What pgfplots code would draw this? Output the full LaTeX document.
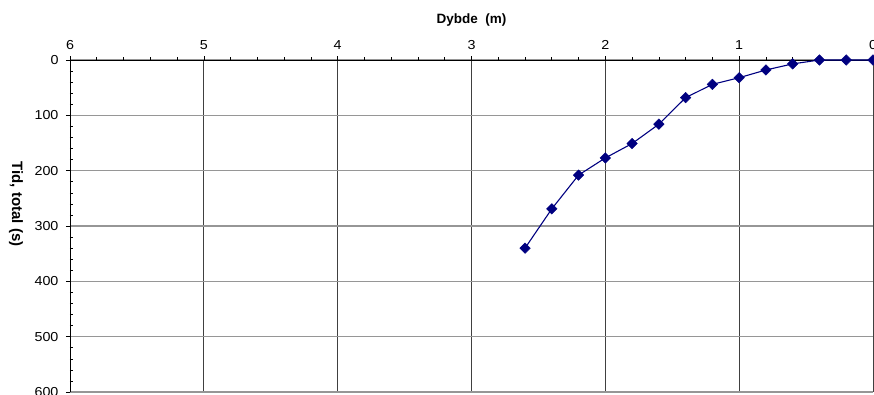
\documentclass[border=0pt]{standalone}
\usepackage{fontspec}
\setmainfont{Liberation Sans}
\newfontfamily\tickfont[FakeStretch=1.1]{Liberation Sans}
\usepackage{pgfplots}
\pgfplotsset{compat=1.18}
\definecolor{navy}{RGB}{0,0,128}
\definecolor{vgrid}{RGB}{64,64,64}
\definecolor{hgrid}{RGB}{150,150,150}
\newcommand{\tl}[1]{\tickfont\fontsize{13}{15}\selectfont\pgfmathprintnumber[assume math mode=true]{#1}}
\begin{document}
\begin{tikzpicture}
\begin{axis}[
  at={(0pt,0pt)}, anchor=south west,
  scale only axis,
  width=803pt, height=332pt,
  x dir=reverse, y dir=reverse,
  xmin=0, xmax=6, ymin=0, ymax=600,
  axis x line*=top, axis y line*=left,
  axis line style={black, line width=0.9pt, -},
  xtick={0,1,2,3,4,5,6},
  ytick={0,100,200,300,400,500,600},
  minor x tick num=4, minor y tick num=4,
  tick align=outside,
  major tick length=4pt, minor tick length=3pt,
  tick style={black, line width=0.6pt},
  minor y tick style={xshift=3pt},
  xmajorgrids, ymajorgrids,
  x grid style={vgrid, line width=0.8pt},
  y grid style={hgrid, line width=1.6pt},
  xticklabel={\tl{\tick}},
  yticklabel={\tl{\tick}},
  xticklabel style={yshift=3pt},
  yticklabel style={xshift=-4pt},
  xlabel={Dybde\ \ (m)},
  xlabel style={font=\fontsize{13.5}{15}\bfseries\selectfont, at={(axis description cs:0.5,1)}, anchor=center, yshift=40pt},
  ylabel={Tid, total (s)},
  ylabel style={font=\fontsize{15}{17}\bfseries\selectfont, at={(axis description cs:-0.0672,0.566)}, anchor=center, rotate=180},
  clip=false,
]
\addplot[navy, line width=1.1pt, mark=square*, mark size=3.7pt, mark options={rotate=45, fill=navy, draw=navy, line width=0.5pt}]
coordinates {
(0,0) (0.2,0) (0.4,0) (0.6,7) (0.8,18) (1.0,32) (1.2,44) (1.4,68)
(1.6,116) (1.8,151) (2.0,177) (2.2,208) (2.4,269) (2.6,340)
};
\end{axis}
\pgfresetboundingbox
\path[use as bounding box] (-70pt,-2pt) rectangle (804pt,392pt);
\end{tikzpicture}
\end{document}
